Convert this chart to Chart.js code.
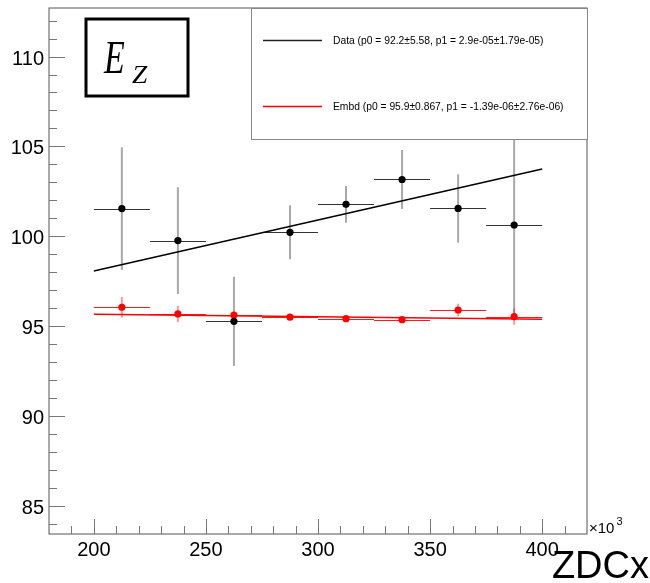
<!DOCTYPE html>
<html>
<head>
<meta charset="utf-8">
<script src="https://cdn.jsdelivr.net/npm/chart.js@4/dist/chart.umd.min.js"></script>
<style>
  html, body { margin: 0; padding: 0; background: #fff; }
  #c { display: block; }
</style>
</head>
<body>
<canvas id="c" width="650" height="583"></canvas>
<script>
// bin centres (x10^3) and half width
const binCentres = [212.5, 237.5, 262.5, 287.5, 312.5, 337.5, 362.5, 387.5];
const binHalfWidth = 12.5;

// Data (black)
const dataValues = [101.54, 99.76, 95.27, 100.22, 101.78, 103.16, 101.55, 100.63];
const dataErrors = [3.41, 2.97, 2.48, 1.5, 1.02, 1.64, 1.9, 5.1];

// Embd (red)
const embdValues = [96.05, 95.68, 95.62, 95.5, 95.42, 95.36, 95.9, 95.53];
const embdErrors = [0.58, 0.45, 0.15, 0.1, 0.1, 0.1, 0.35, 0.45];

// fitted lines, read at the ends of the fit range
const fitRange = [200, 400];
const dataFitEnds = [98.07, 103.74];
const embdFitEnds = [95.66, 95.38];

const xTicks = [200, 250, 300, 350, 400];
const yTicks = [85, 90, 95, 100, 105, 110];
const legendLabels = [
    'Data (p0 = 92.2\u00b15.58, p1 = 2.9e-05\u00b11.79e-05)',
    'Embd (p0 = 95.9\u00b10.867, p1 = -1.39e-06\u00b12.76e-06)'
];
const xTitle = 'ZDCx';

const pts = (xs, ys) => xs.map((x, i) => ({ x: x, y: ys[i] }));

// error bars under the markers
const errorBars = {
    id: 'errorBars',
    beforeDatasetsDraw(chart) {
        const c = chart.ctx, sx = chart.scales.x, sy = chart.scales.y;
        const sets = [
            { v: dataValues, e: dataErrors, h: '#333', vcol: '#a8a8a8' },
            { v: embdValues, e: embdErrors, h: '#ff1a1a', vcol: 'rgba(255,0,0,0.4)' }
        ];
        c.save();
        sets.forEach(s => {
            binCentres.forEach((x, i) => {
                const px = sx.getPixelForValue(x);
                const py = Math.round(sy.getPixelForValue(s.v[i])) + 0.5;
                c.strokeStyle = s.vcol; c.lineWidth = 2;
                c.beginPath();
                c.moveTo(px, sy.getPixelForValue(s.v[i] + s.e[i]));
                c.lineTo(px, sy.getPixelForValue(s.v[i] - s.e[i]));
                c.stroke();
                c.strokeStyle = s.h; c.lineWidth = 1;
                c.beginPath();
                c.moveTo(sx.getPixelForValue(x - binHalfWidth), py);
                c.lineTo(sx.getPixelForValue(x + binHalfWidth), py);
                c.stroke();
            });
        });
        c.restore();
    }
};

// ROOT style frame, inner ticks, labels, legend and title box
const rootFrame = {
    id: 'rootFrame',
    beforeDraw(chart) {
        const c = chart.ctx;
        c.save();
        c.fillStyle = '#fff';
        c.fillRect(0, 0, chart.width, chart.height);
        c.restore();
    },
    afterDraw(chart) {
        const c = chart.ctx, a = chart.chartArea, sx = chart.scales.x, sy = chart.scales.y;
        c.save();
        // frame
        c.strokeStyle = '#555'; c.lineWidth = 1;
        c.strokeRect(Math.round(a.left), Math.round(a.top), Math.round(a.right - a.left), Math.round(a.bottom - a.top));

        // y ticks
        c.strokeStyle = '#777';
        c.beginPath();
        for (let v = Math.ceil(sy.min); v <= sy.max; v++) {
            const py = Math.round(sy.getPixelForValue(v)) + 0.5;
            const len = (v % 5 === 0) ? 16 : 8;
            c.moveTo(a.left, py); c.lineTo(a.left + len, py);
        }
        // x ticks
        for (let v = Math.ceil(sx.min / 10) * 10; v <= sx.max; v += 10) {
            if (v <= sx.min || v >= sx.max) continue;
            const px = Math.round(sx.getPixelForValue(v)) + 0.5;
            const len = (v % 50 === 0) ? 15 : 8;
            c.moveTo(px, a.bottom); c.lineTo(px, a.bottom - len);
        }
        c.stroke();

        // tick labels
        c.fillStyle = '#000';
        c.font = '20px "Liberation Sans", Arial, sans-serif';
        c.textAlign = 'right'; c.textBaseline = 'alphabetic';
        yTicks.forEach(v => c.fillText(String(v), 44, sy.getPixelForValue(v) + 8));
        c.textAlign = 'center';
        xTicks.forEach(v => c.fillText(String(v), sx.getPixelForValue(v), 556));

        // x10^3 and axis title
        c.textAlign = 'left';
        c.font = '15px "Liberation Sans", Arial, sans-serif';
        c.fillText('\u00d710', 589, 533);
        const w = c.measureText('\u00d710').width;
        c.font = '11px "Liberation Sans", Arial, sans-serif';
        c.fillText('3', 589 + w + 2, 525);
        c.textAlign = 'right';
        c.font = '38px "Liberation Sans", Arial, sans-serif';
        c.fillText(xTitle, 649, 578);

        // legend box
        const lx = 251, ly = Math.round(a.top), lw = Math.round(a.right) - 251, lh = 131;
        c.fillStyle = '#fff';
        c.fillRect(lx, ly, lw, lh);
        c.strokeStyle = '#888'; c.lineWidth = 1;
        c.strokeRect(lx + 0.5, ly + 0.5, lw, lh);
        const rows = [{ y: 40.5, col: '#222' }, { y: 106.5, col: '#f00' }];
        c.font = '10.3px "Liberation Sans", Arial, sans-serif';
        c.textAlign = 'left'; c.textBaseline = 'middle';
        rows.forEach((r, i) => {
            c.strokeStyle = r.col; c.lineWidth = 1.4;
            c.beginPath(); c.moveTo(263, r.y); c.lineTo(322, r.y); c.stroke();
            c.fillStyle = '#000';
            c.fillText(legendLabels[i], 333, r.y + 0.5);
        });

        // E_Z box
        c.fillStyle = '#fff';
        c.fillRect(86, 19, 102, 77);
        c.strokeStyle = '#000'; c.lineWidth = 3;
        c.strokeRect(86, 19, 102, 77);
        c.fillStyle = '#000';
        c.textAlign = 'left'; c.textBaseline = 'alphabetic';
        c.save();
        c.translate(104, 73); c.scale(0.74, 1);
        c.font = 'italic 46px "Liberation Serif", "Times New Roman", serif';
        c.fillText('E', 0, 0);
        c.restore();
        c.save();
        c.translate(132, 83); c.scale(1.1, 1);
        c.font = 'italic 25px "Liberation Serif", "Times New Roman", serif';
        c.fillText('Z', 0, 0);
        c.restore();
        c.restore();
    }
};

new Chart(document.getElementById('c').getContext('2d'), {
    type: 'scatter',
    data: {
        datasets: [
            { label: 'Data', data: pts(binCentres, dataValues), pointRadius: 3.6, pointBackgroundColor: '#000', pointBorderWidth: 0, showLine: false },
            { label: 'Embd', data: pts(binCentres, embdValues), pointRadius: 3.6, pointBackgroundColor: '#f00', pointBorderWidth: 0, showLine: false },
            { label: 'Data fit', data: pts(fitRange, dataFitEnds), showLine: true, borderColor: '#000', borderWidth: 1.5, pointRadius: 0 },
            { label: 'Embd fit', data: pts(fitRange, embdFitEnds), showLine: true, borderColor: '#f00', borderWidth: 1.5, pointRadius: 0 }
        ]
    },
    options: {
        responsive: false,
        animation: false,
        layout: { padding: { left: 49, right: 63, top: 8, bottom: 49 } },
        plugins: { legend: { display: false }, tooltip: { enabled: false } },
        scales: {
            x: { type: 'linear', min: 180, max: 420, display: false },
            y: { type: 'linear', min: 83.44, max: 112.7, display: false }
        }
    },
    plugins: [errorBars, rootFrame]
});
</script>
</body>
</html>
